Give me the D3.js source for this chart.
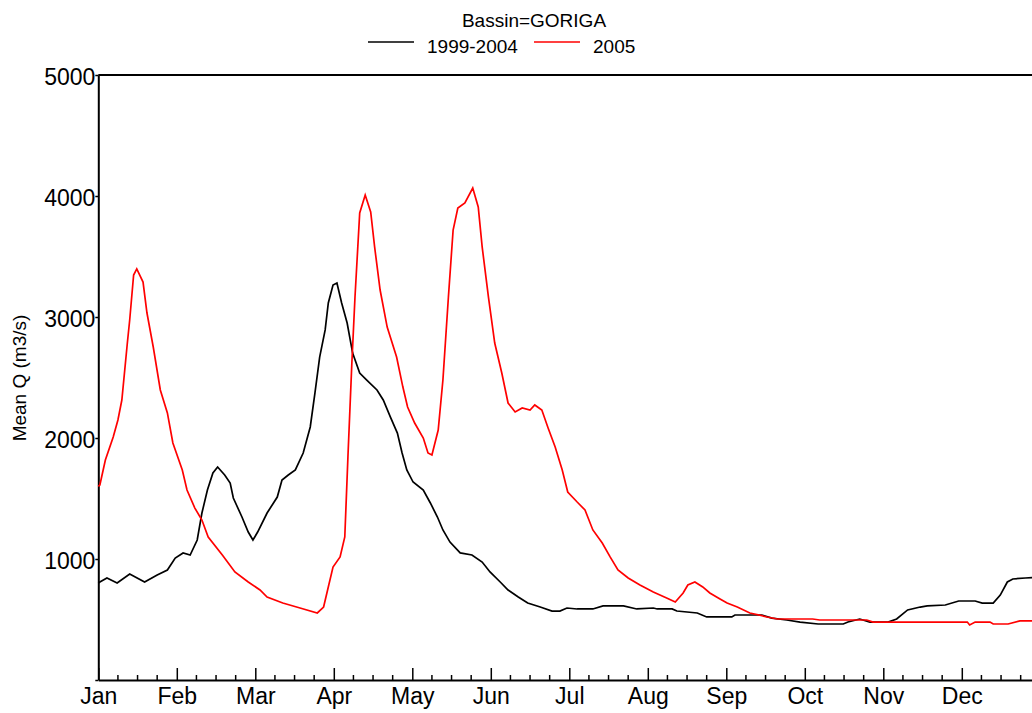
<!DOCTYPE html>
<html>
<head>
<meta charset="utf-8">
<script src="https://cdn.jsdelivr.net/npm/d3@7"></script>
<style>
  body { margin: 0; background: #fff; }
  text { font-family: "Liberation Sans", Arial, sans-serif; fill: #000; }
</style>
</head>
<body>
<div id="chart"></div>
<script>
// x values are in months since Jan 1 (0 = Jan, 12 = end of Dec)
const months = ["Jan", "Feb", "Mar", "Apr", "May", "Jun", "Jul", "Aug", "Sep", "Oct", "Nov", "Dec"];
const yTicks = [0, 1000, 2000, 3000, 4000, 5000];

const series2005 = [
  [0.00, 1600], [0.02, 1612], [0.09, 1818], [0.19, 2008], [0.25, 2149], [0.30, 2314], [0.37, 2785],
  [0.40, 2975], [0.45, 3347], [0.49, 3397], [0.57, 3289], [0.62, 3033], [0.70, 2752], [0.79, 2397],
  [0.88, 2207], [0.95, 1959], [1.07, 1736], [1.13, 1570], [1.23, 1421], [1.32, 1322], [1.40, 1182],
  [1.58, 1033], [1.74, 893], [1.91, 810], [2.06, 744], [2.15, 686], [2.35, 636], [2.57, 595],
  [2.79, 554], [2.87, 603], [2.93, 769], [2.99, 934], [3.08, 1017], [3.14, 1182], [3.18, 1843],
  [3.23, 2620], [3.27, 3165], [3.33, 3860], [3.40, 4008], [3.47, 3868], [3.52, 3579], [3.59, 3223],
  [3.68, 2917], [3.80, 2669], [3.88, 2421], [3.94, 2256], [4.03, 2124], [4.14, 2000], [4.20, 1876],
  [4.25, 1860], [4.33, 2066], [4.39, 2479], [4.46, 3165], [4.52, 3719], [4.58, 3901], [4.67, 3942],
  [4.77, 4066], [4.84, 3909], [4.89, 3579], [4.97, 3165], [5.05, 2785], [5.14, 2537], [5.22, 2289],
  [5.31, 2215], [5.40, 2248], [5.50, 2231], [5.56, 2273], [5.65, 2231], [5.73, 2083], [5.82, 1926],
  [5.91, 1736], [5.98, 1554], [6.10, 1471], [6.20, 1405], [6.30, 1240], [6.42, 1132], [6.52, 1017],
  [6.62, 909], [6.75, 843], [6.90, 785], [7.07, 727], [7.24, 678], [7.35, 645], [7.45, 719],
  [7.51, 785], [7.60, 810], [7.70, 769], [7.79, 719], [7.92, 670], [8.01, 636], [8.14, 603],
  [8.30, 554], [8.52, 521], [8.65, 504], [9.10, 504], [9.19, 496], [9.79, 496], [9.87, 479],
  [11.07, 479], [11.10, 455], [11.17, 479], [11.36, 479], [11.40, 463], [11.59, 463], [11.74, 488],
  [12.00, 488]
];

const seriesAvg = [
  [0.00, 800], [0.02, 810], [0.11, 843], [0.24, 802], [0.40, 876], [0.59, 810], [0.75, 868],
  [0.88, 909], [0.98, 1008], [1.08, 1050], [1.17, 1033], [1.26, 1157], [1.32, 1380], [1.39, 1570],
  [1.46, 1711], [1.52, 1760], [1.61, 1694], [1.68, 1628], [1.72, 1504], [1.83, 1347], [1.91, 1223],
  [1.97, 1157], [2.03, 1223], [2.15, 1380], [2.28, 1512], [2.34, 1653], [2.42, 1694], [2.51, 1736],
  [2.61, 1876], [2.70, 2091], [2.76, 2372], [2.82, 2669], [2.89, 2893], [2.93, 3116], [2.99, 3264],
  [3.04, 3281], [3.10, 3116], [3.17, 2950], [3.24, 2702], [3.33, 2537], [3.42, 2479], [3.55, 2397],
  [3.63, 2314], [3.72, 2174], [3.81, 2041], [3.87, 1876], [3.93, 1736], [4.01, 1636], [4.14, 1570],
  [4.23, 1463], [4.32, 1347], [4.39, 1240], [4.48, 1140], [4.61, 1050], [4.76, 1033], [4.89, 975],
  [4.99, 893], [5.12, 810], [5.22, 744], [5.35, 686], [5.47, 636], [5.63, 603], [5.78, 570],
  [5.88, 570], [5.97, 595], [6.10, 587], [6.30, 587], [6.43, 612], [6.69, 612], [6.86, 587],
  [7.07, 595], [7.12, 587], [7.31, 587], [7.37, 570], [7.63, 554], [7.75, 521], [8.07, 521],
  [8.11, 537], [8.45, 537], [8.58, 512], [8.77, 496], [8.94, 479], [9.17, 463], [9.49, 463],
  [9.55, 479], [9.70, 504], [9.83, 479], [10.06, 479], [10.17, 504], [10.31, 579], [10.47, 603],
  [10.56, 612], [10.79, 620], [10.96, 653], [11.17, 653], [11.26, 636], [11.40, 636], [11.49, 702],
  [11.58, 810], [11.65, 835], [11.81, 843], [12.00, 851]
];

const seriesNames = ["1999-2004", "2005"];
const seriesColors = ["#000000", "#ff0000"];

const width = 1032;
const height = 713;
const margin = {top: 75, left: 98.3, bottom: 33};
const plotWidth = 942;  // the right edge runs past the window
const plotHeight = height - margin.top - margin.bottom;

const svg = d3.select("#chart").append("svg")
    .attr("width", width)
    .attr("height", height);

const g = svg.append("g")
    .attr("transform", "translate(" + margin.left + "," + margin.top + ")");

const x = d3.scaleLinear().domain([0, 12]).range([0, plotWidth]);
const y = d3.scaleLinear().domain([0, 5000]).range([plotHeight, 0]);

// minor ticks every quarter month
const minorTicks = d3.range(0, 48).filter(i => i % 4 !== 0).map(i => i / 4);

g.append("g")
    .attr("transform", "translate(0," + plotHeight + ")")
    .selectAll("line.minor")
    .data(minorTicks)
    .enter().append("line")
    .attr("x1", d => x(d)).attr("x2", d => x(d))
    .attr("y1", 0).attr("y2", -5)
    .attr("stroke", "#000").attr("stroke-width", 1.5);

const xAxis = g.append("g")
    .attr("transform", "translate(0," + plotHeight + ")")
    .call(d3.axisBottom(x)
        .tickValues(d3.range(0, 12))
        .tickFormat(i => months[i])
        .tickSizeInner(-12)
        .tickSizeOuter(0)
        .tickPadding(8));
xAxis.select(".domain").attr("stroke-width", 2);
xAxis.selectAll(".tick line").attr("stroke-width", 1.5);
xAxis.selectAll("text")
    .style("font-size", "23px")
    .attr("dy", "0.71em");

const yAxis = g.append("g")
    .call(d3.axisLeft(y)
        .tickValues(yTicks)
        .tickFormat(d => d === 0 ? "" : d)
        .tickSizeInner(3)
        .tickSizeOuter(0)
        .tickPadding(0));
yAxis.select(".domain").attr("stroke-width", 2);
yAxis.selectAll(".tick line").attr("stroke-width", 1.5);
yAxis.selectAll("text")
    .style("font-size", "23px")
    .attr("dy", "0.4em");

// top frame line
g.append("line")
    .attr("x1", 0).attr("x2", plotWidth)
    .attr("y1", 0).attr("y2", 0)
    .attr("stroke", "#000").attr("stroke-width", 2);

const line = d3.line()
    .x(d => x(d[0]))
    .y(d => y(d[1]));

g.append("path")
    .datum(seriesAvg)
    .attr("d", line)
    .attr("fill", "none")
    .attr("stroke", seriesColors[0])
    .attr("stroke-width", 1.7);

g.append("path")
    .datum(series2005)
    .attr("d", line)
    .attr("fill", "none")
    .attr("stroke", seriesColors[1])
    .attr("stroke-width", 1.7);

// y label
svg.append("text")
    .attr("transform", "translate(26,378) rotate(-90)")
    .attr("text-anchor", "middle")
    .style("font-size", "19px")
    .text("Mean Q (m3/s)");

// title and legend
svg.append("text")
    .attr("x", 534).attr("y", 27)
    .attr("text-anchor", "middle")
    .style("font-size", "19px")
    .text("Bassin=GORIGA");

const legendX = [368, 534];
const legend = svg.selectAll("g.legend")
    .data(seriesNames)
    .enter().append("g")
    .attr("class", "legend")
    .attr("transform", (d, i) => "translate(" + legendX[i] + ",0)");

legend.append("line")
    .attr("x1", 0).attr("x2", 46)
    .attr("y1", 42).attr("y2", 42)
    .attr("stroke", (d, i) => seriesColors[i])
    .attr("stroke-width", 1.7);

legend.append("text")
    .attr("x", 59).attr("y", 53)
    .style("font-size", "19px")
    .text(d => d);
</script>
</body>
</html>
